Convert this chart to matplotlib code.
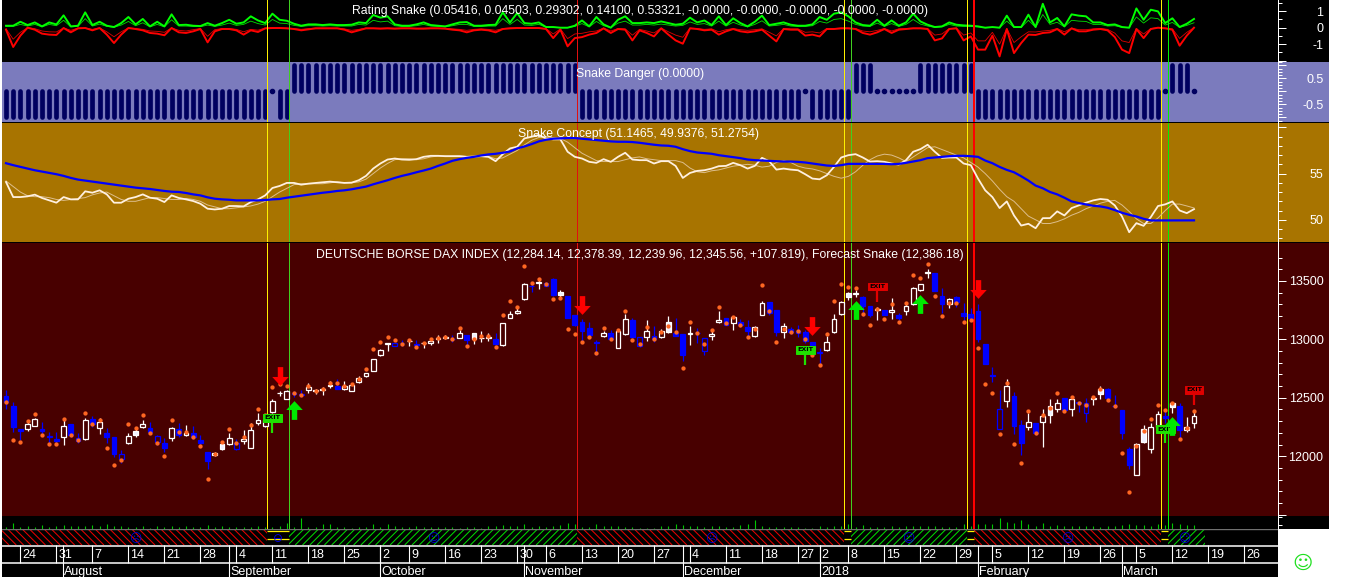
"""
DAX daily chart with the Snake indicators stacked above the candles.
"""

import matplotlib
matplotlib.use("Agg")
import matplotlib.pyplot as plt
from matplotlib.collections import LineCollection
from matplotlib.patches import Rectangle
from matplotlib.path import Path
import numpy as np

plt.rcParams["font.family"] = ["Liberation Sans", "DejaVu Sans"]

opens = [
    12516, 12430, 12230, 12236, 12262, 12230, 12170, 12145, 12162, 12276,
    12159, 12148, 12316, 12245, 12196, 12162, 12016, 12111, 12179, 12247,
    12239, 12176, 12111, 12156, 12230, 12182, 12196, 12139, 12036, 12008,
    12059, 12105, 12111, 12133, 12073, 12287, 12262, 12379, 12538, 12493,
    12544, 12530, 12567, 12561, 12567, 12604, 12601, 12573, 12561, 12638,
    12690, 12733, 12867, 12961, 12969, 12972, 12984, 12958, 12967, 12972,
    13001, 13009, 13007, 13015, 13038, 13001, 13009, 13009, 13004, 12952,
    13186, 13229, 13343, 13457, 13480, 13480, 13514, 13380, 13375, 13209,
    13149, 13095, 12978, 13032, 13052, 12929, 13046, 13166, 13018, 13024,
    13032, 13018, 13066, 13058, 13046, 13046, 13058, 13009, 13029, 13152,
    13181, 13138, 13152, 13103, 13029, 13212, 13323, 13252, 13066, 13086,
    13075, 13064, 12981, 12892, 12909, 13066, 13218, 13366, 13389, 13360,
    13286, 13249, 13252, 13232, 13206, 13243, 13303, 13423, 13568, 13566,
    13375, 13303, 13366, 13223, 13218, 13240, 12961, 12693, 12402, 12473,
    12516, 12265, 12248, 12285, 12296, 12356, 12407, 12499, 12407, 12467,
    12459, 12493, 12533, 12573, 12433, 12396, 12059, 11842, 12122, 12065,
    12248, 12345, 12424, 12430, 12225, 12284,
]
closes = [
    12467, 12247, 12219, 12276, 12316, 12216, 12162, 12128, 12259, 12182,
    12128, 12310, 12276, 12296, 12162, 12019, 11974, 12176, 12216, 12276,
    12208, 12119, 12073, 12239, 12182, 12202, 12168, 12116, 11959, 12031,
    12105, 12153, 12059, 12145, 12222, 12310, 12310, 12476, 12541, 12561,
    12533, 12524, 12590, 12567, 12578, 12610, 12576, 12604, 12610, 12667,
    12710, 12830, 12909, 12967, 12944, 12967, 12989, 12952, 12972, 12987,
    13009, 13018, 13001, 13052, 12995, 13052, 13015, 13021, 12961, 13138,
    13220, 13246, 13472, 13454, 13489, 13460, 13380, 13409, 13186, 13123,
    13072, 13038, 12972, 13052, 13001, 13072, 13172, 13018, 12944, 13069,
    13004, 13069, 13149, 13032, 12867, 13058, 13052, 12901, 13046, 13166,
    13123, 13189, 13123, 13075, 13109, 13309, 13223, 13066, 13115, 13066,
    13058, 12987, 12915, 12881, 12978, 13172, 13317, 13400, 13400, 13286,
    13209, 13258, 13206, 13252, 13181, 13286, 13437, 13472, 13574, 13414,
    13303, 13343, 13323, 13201, 13186, 13001, 12793, 12687, 12236, 12599,
    12262, 12114, 12290, 12202, 12345, 12430, 12453, 12396, 12487, 12459,
    12367, 12499, 12573, 12499, 12427, 12199, 11928, 12102, 12230, 12253,
    12359, 12325, 12456, 12225, 12248, 12346,
]
highs = [
    12567, 12467, 12230, 12310, 12325, 12296, 12210, 12210, 12325, 12276,
    12196, 12325, 12345, 12325, 12239, 12162, 12054, 12196, 12247, 12310,
    12296, 12182, 12153, 12247, 12282, 12267, 12259, 12182, 12036, 12039,
    12125, 12196, 12145, 12225, 12287, 12367, 12325, 12487, 12558, 12567,
    12561, 12567, 12624, 12573, 12590, 12647, 12658, 12647, 12624, 12687,
    12715, 12835, 12915, 12967, 12972, 12995, 13001, 12995, 12975, 13009,
    13038, 13038, 13038, 13081, 13038, 13058, 13072, 13052, 13052, 13143,
    13246, 13286, 13486, 13486, 13514, 13489, 13523, 13423, 13375, 13209,
    13172, 13152, 12995, 13075, 13081, 13081, 13218, 13181, 13024, 13166,
    13115, 13086, 13201, 13181, 13046, 13115, 13095, 13009, 13075, 13246,
    13181, 13201, 13172, 13166, 13115, 13332, 13323, 13252, 13138, 13109,
    13123, 13081, 12981, 12924, 13029, 13218, 13332, 13409, 13423, 13372,
    13286, 13280, 13252, 13352, 13223, 13309, 13452, 13477, 13600, 13571,
    13437, 13352, 13372, 13309, 13266, 13303, 12961, 12761, 12567, 12658,
    12550, 12310, 12373, 12285, 12402, 12487, 12487, 12499, 12496, 12467,
    12502, 12510, 12601, 12581, 12521, 12396, 12082, 12111, 12265, 12288,
    12385, 12396, 12467, 12459, 12333, 12378,
]
lows = [
    12404, 12210, 12139, 12219, 12259, 12182, 12105, 12096, 12096, 12168,
    12111, 12139, 12247, 12190, 12111, 11996, 11945, 12105, 12162, 12239,
    12188, 12096, 12039, 12133, 12168, 12173, 12145, 12082, 11888, 12002,
    12054, 12096, 12054, 12105, 12068, 12267, 12253, 12373, 12516, 12487,
    12510, 12504, 12539, 12533, 12524, 12581, 12576, 12567, 12558, 12630,
    12675, 12727, 12858, 12904, 12940, 12944, 12944, 12938, 12929, 12952,
    12972, 13004, 12981, 13009, 12952, 12961, 12981, 12989, 12952, 12947,
    13181, 13218, 13337, 13409, 13432, 13457, 13372, 13343, 13181, 13115,
    12981, 13024, 12867, 13018, 12995, 12924, 13038, 13009, 12932, 12989,
    12981, 13009, 13052, 13032, 12815, 12952, 12967, 12867, 12995, 13138,
    13123, 13081, 13109, 13024, 13018, 13206, 13209, 13029, 13015, 13046,
    13024, 12967, 12867, 12790, 12904, 13058, 13212, 13337, 13366, 13201,
    13189, 13166, 13206, 13175, 13166, 13209, 13295, 13417, 13529, 13414,
    13223, 13269, 13280, 13166, 13166, 12981, 12793, 12638, 12236, 12424,
    12191, 12011, 12225, 12182, 12082, 12288, 12379, 12390, 12345, 12379,
    12296, 12439, 12487, 12464, 12416, 12148, 11888, 11840, 12111, 12031,
    12239, 12288, 12367, 12153, 12211, 12240,
]
forecast = [
    12464, 12136, 12119, 12302, 12359, 12179, 12102, 12108, 12316, 12179,
    12136, 12367, 12279, 12310, 12068, 11922, 11965, 12273, 12239, 12350,
    12202, 12116, 11999, 12307, 12208, 12208, 12168, 12091, 11802, 12016,
    12119, 12230, 12111, 12168, 12270, 12402, 12353, 12596, 12621, 12598,
    12539, 12524, 12601, 12561, 12578, 12630, 12624, 12604, 12618, 12658,
    12744, 12915, 12975, 13024, 12992, 12961, 12992, 12932, 12967, 13001,
    13015, 13024, 13001, 13095, 12941, 13001, 13032, 13032, 12932, 13206,
    13326, 13275, 13626, 13480, 13517, 13472, 13343, 13352, 13086, 13049,
    12975, 13018, 12881, 13095, 13007, 13081, 13240, 12992, 12961, 13103,
    13007, 13064, 13115, 13061, 12753, 13146, 13058, 12961, 13081, 13278,
    13138, 13189, 13126, 13024, 13092, 13463, 13240, 12975, 13086, 13061,
    13075, 13000, 12864, 12778, 13049, 13329, 13474, 13452, 13437, 13215,
    13126, 13258, 13178, 13300, 13146, 13309, 13549, 13523, 13643, 13369,
    13198, 13312, 13312, 13146, 13169, 12924, 12616, 12544, 12188, 12630,
    12102, 11939, 12385, 12196, 12350, 12410, 12544, 12385, 12504, 12453,
    12439, 12504, 12576, 12479, 12430, 12025, 11691, 12091, 12213, 12316,
    12439, 12393, 12459, 12145, 12239, 12386,
]
white_filled = [18, 30, 65, 77, 92, 117, 145, 152, 158, 162]
blue_hollow = [16, 21, 32, 54, 88, 97, 138, 150]

volume = [
    5, 18, 5, 8, 6, 12, 5, 10, 12, 8,
    10, 8, 12, 10, 16, 8, 8, 5, 5, 8,
    4, 10, 6, 8, 6, 8, 7, 6, 13, 5,
    8, 5, 6, 7, 6, 8, 7, 6, 8, 18,
    5, 32, 6, 5, 14, 14, 5, 6, 4, 7,
    6, 14, 6, 15, 8, 7, 7, 9, 5, 7,
    5, 7, 5, 4, 7, 5, 4, 8, 8, 12,
    8, 10, 14, 5, 8, 6, 10, 12, 18, 14,
    6, 6, 16, 10, 10, 8, 5, 5, 3, 4,
    4, 8, 10, 14, 12, 8, 8, 5, 8, 8,
    5, 6, 12, 14, 28, 8, 6, 5, 6, 6,
    5, 4, 4, 8, 6, 8, 10, 16, 6, 12,
    7, 7, 7, 8, 5, 8, 8, 8, 8, 8,
    6, 5, 6, 14, 10, 14, 16, 14, 32, 20,
    18, 26, 14, 8, 18, 10, 12, 10, 10, 8,
    10, 10, 6, 8, 10, 12, 14, 12, 12, 10,
    16, 12, 18, 16, 12, 12,
]

rating_up = [
    .12, .12, .36, .16, .32, .08, .32, .2, .75, .08,
    .12, .93, .16, .36, .12, .04, .28, .65, .2, .53,
    .08, .36, .08, .81, .16, .18, .12, .1, .28, .12,
    .28, .48, .24, .32, .69, .44, .28, .85, .48, .42,
    .24, .12, .2, .2, .16, .2, .16, .16, .18, .32,
    .28, .77, .61, .69, .2, .12, .12, .2, .32, .16,
    .12, .08, .2, .32, .34, .12, .12, .16, .18, .93,
    .32, .89, .28, .24, .32, .04, .04, 0, 0, .12,
    .44, .08, .65, .2, 0, .48, .69, .28, .28, .32,
    .28, .38, .28, .18, .24, .61, .32, .44, .16, .69,
    .16, .57, .28, .08, .36, .73, .16, .24, .32, .18,
    .12, .12, .2, .65, .48, .85, .93, .69, .32, .16,
    .12, .48, .12, .44, .12, .32, .85, .38, .18, .04,
    .08, .32, .18, .14, .12, .08, 0, .04, 0, .73,
    .04, .04, .79, .04, 1.45, .32, .59, .08, .81, .73,
    .69, .32, .32, .16, .2, .04, 0, 1.17, .48, 1.09,
    .99, .28, .57, .04, .24, .53,
]
rating_up_thin = [
    .08, .08, .2, .1, .2, .05, .2, .12, .45, .05,
    .08, .55, .1, .22, .08, .03, .16, .38, .12, .3,
    .05, .2, .05, .48, .1, .1, .08, .06, .16, .08,
    .16, .28, .14, .2, .4, .25, .16, .5, .28, .25,
    .14, .08, .12, .12, .1, .12, .1, .1, .1, .2,
    .16, .45, .35, .4, .12, .08, .08, .12, .2, .1,
    .08, .05, .12, .2, .2, .08, .08, .1, .1, .55,
    .2, .5, .16, .14, .2, .03, .02, 0, 0, .08,
    .25, .05, .38, .12, 0, .28, .4, .16, .16, .2,
    .16, .22, .16, .1, .14, .35, .2, .25, .1, .4,
    .1, .33, .16, .05, .2, .42, .1, .14, .2, .1,
    .08, .08, .12, .38, .28, .5, .55, .4, .2, .1,
    .08, .28, .08, .25, .08, .2, .5, .22, .1, .02,
    .05, .2, .1, .08, .08, .05, 0, .02, 0, .4,
    .02, .02, .45, .02, .8, .2, .33, .05, .45, .4,
    .38, .2, .2, .1, .12, .02, 0, .65, .28, .6,
    .55, .16, .32, .02, .14, .3,
]
rating_down = [
    -.12, -1.17, -.48, 0, -.12, -.36, -.42, -.44, -.02, -.28,
    -.04, -.02, -.16, -.02, -.42, -.93, -.42, -.02, -.08, -.16,
    -.32, -.36, -.46, -.02, -.28, -.32, -.22, -.08, -.89, -.22,
    -.08, -.08, -.16, -.42, -.16, -.26, -.04, -.02, -.02, -.04,
    -.08, -.16, -.10, -.04, -.04, -.04, -.04, -.12, -.28, -.16,
    -.04, -.04, -.06, -.04, -.06, -.04, -.04, -.06, -.06, -.04,
    -.04, -.06, -.12, -.16, -.28, -.16, -.12, -.16, -.28, -.08,
    -.04, -.02, -.02, -.02, -.02, -.08, -.63, -.12, -1.13, -.63,
    -.57, -.42, -.32, -.04, -.32, -.08, -.12, -.77, -.16, -.32,
    -.53, -.04, -.42, -.77, -.97, -.04, -.08, -.16, -.12, -.42,
    -.22, -.08, -.22, -.28, -.22, -.12, -.48, -.83, -.08, -.12,
    -.12, -.48, -.42, -.53, -.08, -.08, -.04, -.04, -.08, -.32,
    -.42, -.28, -.08, -.32, -.12, -.08, -.04, -.04, -.08, -.77,
    -.65, -.08, -.04, -.77, -.53, -1.33, -1.33, -.48, -1.74, -.08,
    -1.54, -.93, -.42, -.44, -.32, -.28, -.08, -.42, -.04, -.22,
    -.22, -.12, -.08, -.16, -.57, -1.33, -1.54, -.08, -.63, -.08,
    0, -.04, -.12, -1.09, -.48, 0,
]
rating_down_thin = [
    -.06, -.7, -.28, 0, -.06, -.2, -.25, -.26, -.01, -.16,
    -.02, -.01, -.1, -.01, -.25, -.55, -.25, -.01, -.05, -.1,
    -.2, -.22, -.28, -.01, -.16, -.2, -.12, -.05, -.52, -.12,
    -.05, -.05, -.1, -.25, -.1, -.15, -.02, -.01, -.01, -.02,
    -.05, -.1, -.06, -.02, -.02, -.02, -.02, -.07, -.16, -.1,
    -.02, -.02, -.03, -.02, -.03, -.02, -.02, -.03, -.03, -.02,
    -.02, -.03, -.07, -.1, -.16, -.1, -.07, -.1, -.16, -.05,
    -.02, -.01, -.01, -.01, -.01, -.05, -.38, -.07, -.66, -.38,
    -.34, -.25, -.2, -.02, -.2, -.05, -.07, -.45, -.1, -.2,
    -.32, -.02, -.25, -.45, -.58, -.02, -.05, -.1, -.07, -.25,
    -.12, -.05, -.12, -.16, -.12, -.07, -.28, -.5, -.05, -.07,
    -.07, -.28, -.25, -.32, -.05, -.05, -.02, -.02, -.05, -.2,
    -.25, -.16, -.05, -.2, -.07, -.05, -.02, -.02, -.05, -.45,
    -.38, -.05, -.02, -.45, -.32, -.8, -.8, -.28, -1.0, -.05,
    -.9, -.55, -.25, -.26, -.2, -.16, -.05, -.25, -.02, -.12,
    -.12, -.07, -.05, -.1, -.33, -.8, -.9, -.05, -.38, -.05,
    0, -.02, -.07, -.65, -.28, 0,
]

danger = (
    [-1] * 37 + [0] + [-1] * 2 + [1] * 40 + [-1] * 31 + [0] + [-1] * 6
    + [1] * 3 + [0] * 6 + [1] * 8 + [-1] * 26 + [0] + [1] * 3 + [0]
)

concept_fast = [
    54.09, 52.46, 52.46, 52.54, 52.72, 52.36, 52.10, 51.85, 52.46, 52.21,
    52.21, 53.08, 52.93, 53.19, 52.75, 51.85, 51.85, 52.28, 52.46, 52.75,
    52.39, 52.28, 51.92, 52.64, 52.36, 52.21, 52.03, 51.74, 51.20, 51.12,
    51.20, 51.49, 51.49, 51.45, 51.92, 52.21, 52.64, 53.44, 53.66, 53.99,
    53.99, 53.80, 53.91, 53.99, 54.06, 54.13, 54.06, 53.99, 54.02, 54.28,
    54.75, 55.54, 56.09, 56.52, 56.63, 56.52, 56.49, 56.56, 56.81, 56.92,
    56.92, 56.88, 56.88, 56.88, 56.81, 56.85, 56.88, 56.81, 56.34, 57.10,
    57.72, 57.90, 58.80, 58.99, 59.17, 58.80, 58.70, 58.70, 57.36, 56.81,
    56.63, 56.27, 56.16, 56.56, 56.27, 56.81, 57.25, 56.52, 56.45, 56.45,
    56.09, 56.34, 56.34, 55.83, 54.53, 55.07, 55.29, 55.36, 55.54, 55.80,
    55.83, 56.16, 55.91, 55.54, 55.83, 56.70, 56.34, 55.43, 55.54, 55.43,
    55.36, 54.93, 54.46, 54.38, 54.82, 55.72, 56.74, 56.99, 57.10, 56.74,
    56.30, 56.34, 56.27, 56.09, 55.98, 56.45, 57.36, 57.64, 58.12, 57.36,
    56.70, 56.74, 56.74, 56.09, 55.91, 54.46, 53.19, 52.46, 51.27, 51.99,
    50.47, 49.38, 49.57, 49.09, 50.18, 50.18, 50.91, 50.47, 51.27, 51.56,
    51.85, 52.10, 52.25, 52.17, 51.56, 50.36, 48.66, 49.64, 49.35, 50.29,
    51.49, 51.67, 51.99, 51.01, 50.72, 51.15,
]
concept_signal = [
    54.2, 53.6, 53.0, 52.6, 52.5, 52.5, 52.4, 52.2, 52.1, 52.2,
    52.3, 52.4, 52.7, 52.9, 53.0, 52.6, 52.2, 52.0, 52.0, 52.2,
    52.4, 52.4, 52.3, 52.2, 52.2, 52.3, 52.2, 52.0, 51.6, 51.4,
    51.2, 51.2, 51.3, 51.4, 51.5, 51.7, 52.0, 52.5, 53.0, 53.4,
    53.8, 53.9, 53.9, 53.9, 53.9, 54.0, 54.1, 54.0, 54.0, 54.1,
    54.4, 55.0, 55.6, 56.1, 56.5, 56.6, 56.6, 56.5, 56.6, 56.8,
    56.9, 56.9, 56.9, 56.9, 56.85, 56.85, 56.85, 56.85, 56.6, 56.7,
    57.1, 57.5, 58.1, 58.6, 58.9, 59.0, 58.9, 58.8, 58.4, 57.8,
    57.2, 56.8, 56.4, 56.3, 56.3, 56.3, 56.5, 56.7, 56.8, 56.6,
    56.5, 56.4, 56.4, 56.4, 56.2, 55.6, 55.2, 55.1, 55.3, 55.4,
    55.6, 55.8, 55.9, 56.0, 55.9, 55.7, 55.8, 56.2, 56.4, 56.2,
    55.8, 55.6, 55.5, 55.3, 55.0, 54.7, 54.5, 54.7, 55.2, 55.9,
    56.5, 56.9, 57.1, 57.0, 56.7, 56.3, 56.8, 57.3, 57.8, 57.9,
    57.6, 57.3, 57.0, 56.7, 56.2, 55.7, 55.0, 54.2, 53.3, 52.5,
    52.0, 51.2, 50.4, 50.0, 49.6, 49.6, 49.8, 50.1, 50.5, 50.8,
    51.2, 51.5, 51.8, 52.0, 52.1, 51.6, 50.9, 50.1, 49.6, 49.6,
    50.2, 51.0, 51.7, 51.7, 51.5, 51.28,
]
concept_slow = [
    56.12, 55.91, 55.72, 55.54, 55.36, 55.22, 55.07, 54.93, 54.75, 54.53,
    54.35, 54.24, 54.13, 54.02, 53.91, 53.80, 53.70, 53.59, 53.48, 53.41,
    53.33, 53.22, 53.12, 53.04, 53.01, 52.90, 52.75, 52.64, 52.43, 52.28,
    52.21, 52.17, 52.10, 52.10, 52.10, 52.10, 52.14, 52.21, 52.25, 52.39,
    52.50, 52.61, 52.72, 52.83, 52.93, 53.01, 53.12, 53.19, 53.30, 53.44,
    53.59, 53.84, 54.06, 54.28, 54.53, 54.75, 54.93, 55.14, 55.33, 55.54,
    55.83, 56.09, 56.38, 56.56, 56.70, 56.81, 56.96, 57.07, 57.14, 57.25,
    57.39, 57.72, 57.93, 58.19, 58.48, 58.66, 58.77, 58.80, 58.84, 58.84,
    58.77, 58.70, 58.62, 58.55, 58.48, 58.44, 58.44, 58.41, 58.33, 58.22,
    58.12, 58.04, 58.01, 57.90, 57.64, 57.43, 57.28, 57.21, 57.14, 56.99,
    56.88, 56.78, 56.67, 56.52, 56.45, 56.41, 56.38, 56.34, 56.30, 56.30,
    56.27, 56.20, 56.09, 55.98, 55.87, 55.83, 55.91, 56.05, 56.05, 56.05,
    56.05, 56.05, 56.05, 56.01, 56.05, 56.16, 56.30, 56.45, 56.67, 56.74,
    56.81, 56.88, 56.92, 56.92, 56.88, 56.81, 56.41, 56.12, 55.72, 55.40,
    55.14, 54.71, 54.24, 53.70, 53.41, 53.01, 52.75, 52.39, 51.99, 51.81,
    51.67, 51.52, 51.45, 51.30, 51.05, 50.76, 50.54, 50.36, 50.11, 49.93,
    49.93, 49.93, 49.93, 49.93, 49.93, 49.94,
]

# entry/exit signals: bar number and price
sell_idx = [38, 80, 112, 135]
sell_price = [12690, 13295, 13115, 13434]
buy_idx = [40, 118, 127, 162]
buy_price = [12393, 13249, 13303, 12259]
exit_long_idx = [37, 111, 161]
exit_long_price = [12330, 12910, 12230]
exit_long_stem = [12202, 12781, 12111]
exit_short_idx = [121, 165]
exit_short_price = [13452, 12570]
exit_short_stem = [13323, 12439]

yellow_lines = [36.3, 116.4, 133.5, 160.4]
signal_lines = [39.35, 79.35, 117.4, 134.5, 161.4]
signal_colors = ["#40D020", "#E01010", "#40D020", "#FF0000", "#00F000"]
signal_widths = [1, 1, 1, 2, 1]

regime_start = [-0.6, 39.35, 79.35, 117.4, 134.5, 161.4]
regime_end = [36.3, 79.35, 116.4, 133.5, 160.4, 166.5]
regime_state = ["down", "up", "down", "up", "down", "up"]
face_idx = [17.9, 37.8, 59.3, 97.9, 125.3, 147.4, 163.6]
face_text = ["☹", "⊖", "☺", "☹", "☺", "☹", "☺"]

day_idx = [2, 7, 12, 17, 22, 27, 32, 37, 42, 47, 52, 56, 61, 66, 71, 75, 80,
           85, 90, 95, 100, 105, 110, 113, 117, 122, 127, 132, 137, 142, 147,
           152, 157, 162, 167, 172]
day_text = ["24", "31", "7", "14", "21", "28", "4", "11", "18", "25", "2", "9",
            "16", "23", "30", "6", "13", "20", "27", "4", "11", "18", "27",
            "2", "8", "15", "22", "29", "5", "12", "19", "26", "5", "12",
            "19", "26"]
month_idx = [7.9, 31, 52, 71.9, 94, 113, 135, 155]
month_text = ["August", "September", "October", "November", "December",
              "2018", "February", "March"]

W, H = 1352, 577
BAR_PX = 7.2
XLIM = (-4 / BAR_PX, (1278 - 6) / BAR_PX)
BLACK, PURPLE, BROWN, MAROON = "#000000", "#7B7BBD", "#A87400", "#480000"

x = np.arange(len(closes))
fig = plt.figure(figsize=(W / 100, H / 100), dpi=100, facecolor="white")


def panel(top, bottom, color):
    ax = fig.add_axes([2 / W, 1 - bottom / H, 1276 / W, (bottom - top) / H])
    ax.set_facecolor(color)
    ax.set_xlim(XLIM)
    ax.set_xticks([])
    for side in ["left", "top", "bottom"]:
        ax.spines[side].set_visible(False)
    ax.spines["right"].set_color("white")
    ax.spines["right"].set_linewidth(0.72)
    return ax


def right_scale(ax, major, labels, minor):
    ax.yaxis.tick_right()
    ax.set_yticks(major, labels=labels)
    ax.set_yticks(minor, minor=True)
    ax.tick_params(axis="y", which="major", length=5.8, width=0.72, color="white",
                   labelcolor="white", labelsize=9, pad=27)
    ax.tick_params(axis="y", which="minor", length=2.9, width=0.72, color="white")
    plt.setp(ax.yaxis.get_majorticklabels(), ha="right")


def event_lines(ax, z):
    for pos in yellow_lines:
        ax.axvline(pos, color="#FFF000", lw=0.72, zorder=z)
    for pos, col, wid in zip(signal_lines, signal_colors, signal_widths):
        ax.axvline(pos, color=col, lw=wid * 0.72, zorder=z)


def hatch_span(ax, a, b, col, rising):
    # the built in hatch spacing does not fit this strip, so draw the diagonals
    clip = Rectangle((a, 0), b - a, 1, fc="none", ec="none")
    ax.add_patch(clip)
    run = 16 / BAR_PX
    starts = np.arange(a - run, b, 7.3 / BAR_PX)
    if rising:
        segs = [[(s, 0), (s + run, 1)] for s in starts]
    else:
        segs = [[(s, 1), (s + run, 0)] for s in starts]
    lines = LineCollection(segs, colors=col, linewidths=0.75)
    ax.add_collection(lines, autolim=False)
    lines.set_clip_path(clip)


def title(px, py, text, **kw):
    fig.text(px / W, 1 - py / H, text, color="white", fontsize=8.85, va="center", **kw)


# coloured strips behind the right hand scale
back = fig.add_axes([0, 0, 1, 1], zorder=-1)
back.set_xlim(0, W)
back.set_ylim(H, 0)
back.axis("off")
for top, bottom, col in [(0, 62, BLACK), (62, 122, PURPLE), (122, 123, BLACK),
                         (123, 242, BROWN), (242, 243, BLACK), (243, 516, MAROON),
                         (516, 529, BLACK)]:
    back.add_patch(Rectangle((2, top), 1327, bottom - top, fc=col, ec="none"))

# Rating Snake
ax1 = panel(0, 61.5, BLACK)
ax1.set_ylim(-2.05, 1.68)
ax1.plot(x, rating_up_thin, color="#00E000", lw=0.6)
ax1.plot(x, rating_down_thin, color="#E00000", lw=0.6)
ax1.plot(x, rating_up, color="#00FF00", lw=1.4)
ax1.plot(x, rating_down, color="#FF0000", lw=1.4)
right_scale(ax1, [-2, -1, 0, 1], ["", "-1", "0", "1"], [-1.5, -0.5, 0.5, 1.5])
event_lines(ax1, 3)

# Snake Danger
ax2 = panel(62, 122, PURPLE)
ax2.set_ylim(-1.18, 1.127)
danger_arr = np.array(danger)
nonzero = danger_arr != 0
bars = ax2.vlines(x[nonzero], 0, danger_arr[nonzero], color="#000060", lw=3.4)
bars.set_capstyle("round")
ax2.plot(x[~nonzero], danger_arr[~nonzero], "o", color="#000060", ms=3)
right_scale(ax2, [-1, -0.5, 0, 0.5, 1], ["", "-0.5", "", "0.5", ""],
            [v / 8 for v in range(-9, 10)])
event_lines(ax2, 3)

# Snake Concept
ax3 = panel(123, 242, BROWN)
ax3.set_ylim(47.6, 60.47)
ax3.plot(x, concept_signal, color="#DDBE8C", lw=0.7)
ax3.plot(x, concept_fast, color="#FFF0E0", lw=1.3)
ax3.plot(x, concept_slow, color="#0000FF", lw=1.6)
right_scale(ax3, [50, 55, 60], ["50", "55", ""],
            [v for v in range(48, 61) if v % 5])
event_lines(ax3, 1)

# price candles
ax4 = panel(243, 516, MAROON)
ax4.set_ylim(11488, 13825)
event_lines(ax4, 1)
o, c, hi, lo = map(np.array, (opens, closes, highs, lows))
rising = c >= o
colors = np.where(rising, "#FFFFFF", "#0000FF")
ax4.vlines(x, lo, hi, colors=colors, lw=0.9, zorder=2)
faces = [("#F0F0FF" if i in white_filled else MAROON) if rising[i]
         else (MAROON if i in blue_hollow else "#0000FF") for i in x]
ax4.bar(x, np.maximum(np.abs(c - o), 3), bottom=np.minimum(o, c), width=4.8 / BAR_PX,
        color=faces, edgecolor=colors, linewidth=0.9, zorder=3)
ax4.plot(x, forecast, "o", color="#FF6622", ms=3.1, mew=0, zorder=4)
right_scale(ax4, [11500, 12000, 12500, 13000, 13500], ["", "12000", "12500", "13000", "13500"],
            [v for v in range(11600, 13800, 100) if v % 500])

arrow_up = Path([(0, 1), (-0.88, 0.05), (-0.29, 0.05), (-0.29, -1),
                 (0.29, -1), (0.29, 0.05), (0.88, 0.05), (0, 1)], closed=True)
arrow_down = Path([(0, -1), (-0.88, -0.05), (-0.29, -0.05), (-0.29, 1),
                   (0.29, 1), (0.29, -0.05), (0.88, -0.05), (0, -1)], closed=True)
ax4.plot(sell_idx, sell_price, ls="none", marker=arrow_down, ms=13.5, color="#FF0000", mew=0, zorder=6)
ax4.plot(buy_idx, buy_price, ls="none", marker=arrow_up, ms=13.5, color="#00E800", mew=0, zorder=6)

for idx, price, stem, col in (
    list(zip(exit_long_idx, exit_long_price, exit_long_stem, ["#20E000"] * 3))
    + list(zip(exit_short_idx, exit_short_price, exit_short_stem, ["#E00000"] * 2))
):
    ax4.vlines(idx, stem, price, color=col, lw=1.6, zorder=5)
    ax4.text(idx, price, "EXIT", fontsize=4.6, fontweight="bold", color="black", ha="center",
             va="center", zorder=5, family="DejaVu Sans",
             bbox=dict(boxstyle="square,pad=0.22", fc=col, ec=col, lw=0.7))

# volume ticks
ax5 = panel(516, 529, BLACK)
ax5.set_ylim(0, 39)
ax5.vlines(x, 0, volume, color="#00C800", lw=0.8)
right_scale(ax5, [], [], [12, 35])
event_lines(ax5, 3)

# regime strip
ax6 = panel(529, 545, BLACK)
ax6.set_ylim(0, 1)
ax6.spines["right"].set_visible(False)
ax6.set_yticks([])
for a, b, state in zip(regime_start, regime_end, regime_state):
    hatch_span(ax6, a, b, "#E80000" if state == "down" else "#00D800", state == "up")
ax6.axhline(0.97, color="#707070", lw=1, zorder=3)
for a, b in zip(regime_end[:-1], regime_start[1:]):
    ax6.hlines([0.87, 0.36], a, b, color="#FFF000", lw=0.9)
for pos, glyph in zip(face_idx, face_text):
    ax6.text(pos, 0.42, glyph, color="#0000E0", fontsize=8.5, ha="center", va="center",
             family="DejaVu Sans")

# date rows
ax7 = panel(545, 577, BLACK)
ax7.set_ylim(0, 32)
ax7.spines["right"].set_visible(False)
ax7.set_yticks([])
ax7.axhline(31.3, color="white", lw=1.1)
ax7.axhline(14.5, color="white", lw=1.1)
ax7.vlines(day_idx, 14.5, 32, color="white", lw=0.8)
ax7.vlines(month_idx, 0, 32, color="white", lw=0.8)
for pos, label in zip(day_idx, day_text):
    ax7.text(pos + 0.3, 22.5, label, color="white", fontsize=9, va="center", clip_on=True)
for pos, label in zip(month_idx, month_text):
    ax7.text(pos + 0.2, 5, label, color="white", fontsize=9, va="center", clip_on=True)

title(639.5, 11, "Rating Snake (0.05416, 0.04503, 0.29302, 0.14100, 0.53321, -0.0000, -0.0000, -0.0000, -0.0000, -0.0000)", ha="center")
title(575.5, 73.5, "Snake Danger (0.0000)")
title(518, 134.5, "Snake Concept (51.1465, 49.9376, 51.2754)")
title(640, 254.5, "DEUTSCHE BORSE DAX INDEX (12,284.14, 12,378.39, 12,239.96, 12,345.56, +107.819), Forecast Snake (12,386.18)", ha="center")
fig.text(1303 / W, 1 - 563 / H, "☺", color="#20E020", fontsize=14, ha="center", va="center",
         family="DejaVu Sans")

fig.savefig("out.png", dpi=100, facecolor="white")
